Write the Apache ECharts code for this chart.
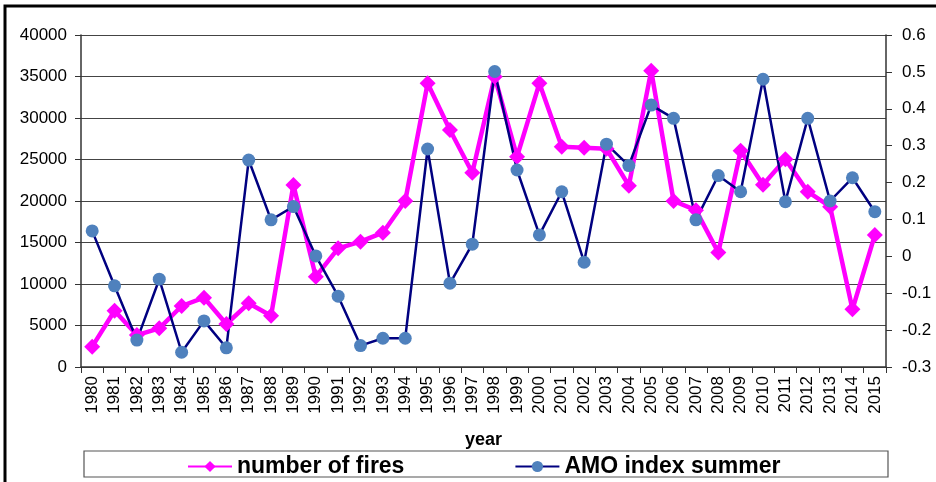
<!DOCTYPE html>
<html>
<head>
<meta charset="utf-8">
<script src="https://cdn.jsdelivr.net/npm/echarts@6/dist/echarts.min.js"></script>
<style>
html, body { margin: 0; padding: 0; background: #fff; }
#main { width: 936px; height: 482px; }
</style>
</head>
<body>
<div id="main"></div>
<script>
var years = ['1980','1981','1982','1983','1984','1985','1986','1987','1988','1989',
  '1990','1991','1992','1993','1994','1995','1996','1997','1998','1999',
  '2000','2001','2002','2003','2004','2005','2006','2007','2008','2009',
  '2010','2011','2012','2013','2014','2015'];
var fires = [2450, 6780, 3850, 4660, 7350, 8350, 5180, 7670, 6180, 21930,
  10880, 14300, 15100, 16180, 20000, 34180, 28550, 23410, 34980, 25340,
  34180, 26550, 26430, 26300, 21850, 35700, 20000, 18900, 13800, 26060,
  21970, 25020, 21120, 19320, 6950, 15900];
var amo = [0.069, -0.080, -0.227, -0.062, -0.260, -0.175, -0.248, 0.261, 0.099, 0.135,
  0.001, -0.108, -0.242, -0.222, -0.222, 0.291, -0.073, 0.033, 0.501, 0.234,
  0.058, 0.175, -0.016, 0.304, 0.246, 0.410, 0.374, 0.099, 0.219, 0.175,
  0.480, 0.148, 0.374, 0.150, 0.213, 0.121];

var chart = echarts.init(document.getElementById('main'));
var font = 'Liberation Sans, Arial, sans-serif';

var option = {
  animation: false,
  backgroundColor: '#fff',
  grid: { left: 81, right: 50, top: 35, bottom: 115 },
  graphic: [
    // outer frame (only top and left edges fall inside the picture)
    { type: 'rect', shape: { x: 5, y: 6, width: 960, height: 520 },
      style: { fill: 'none', stroke: '#000', lineWidth: 3 }, z: 100 },
    // legend box
    { type: 'rect', shape: { x: 84, y: 451, width: 804, height: 26 },
      style: { fill: 'none', stroke: '#555', lineWidth: 1.2 }, z: 100 }
  ],
  legend: {
    left: 182, top: 450,
    itemWidth: 44, itemHeight: 14, itemGap: 110,
    textStyle: { fontFamily: font, fontSize: 23, fontWeight: 'bold', color: '#000' },
    data: ['number of fires', 'AMO index summer']
  },
  xAxis: {
    type: 'category',
    data: years,
    name: 'year',
    nameLocation: 'middle',
    nameGap: 64,
    nameTextStyle: { fontFamily: font, fontSize: 18, fontWeight: 'bold', color: '#000' },
    axisLine: { lineStyle: { color: '#333', width: 1.5 } },
    axisTick: { show: true, length: 6, lineStyle: { color: '#333' } },
    axisLabel: { rotate: 90, fontFamily: font, fontSize: 17, color: '#000', margin: 9 }
  },
  yAxis: [
    {
      type: 'value', min: 0, max: 40000, interval: 5000,
      axisLine: { show: true, lineStyle: { color: '#333', width: 1.5 } },
      axisTick: { show: true, length: 6, lineStyle: { color: '#333' } },
      axisLabel: { fontFamily: font, fontSize: 17, color: '#000', margin: 14,
        formatter: function (v) { return v + ''; } },
      splitLine: { lineStyle: { color: '#444', width: 1.2 } }
    },
    {
      type: 'value', min: -0.3, max: 0.6, interval: 0.1,
      axisLine: { show: true, lineStyle: { color: '#333', width: 1.5 } },
      axisTick: { show: true, length: 6, lineStyle: { color: '#333' } },
      axisLabel: {
        fontFamily: font, fontSize: 17, color: '#000', margin: 16,
        formatter: function (v) { return Math.round(v * 10) / 10 + ''; }
      },
      splitLine: { show: false }
    }
  ],
  series: [
    {
      name: 'number of fires',
      type: 'line',
      yAxisIndex: 0,
      data: fires,
      symbol: 'diamond',
      symbolSize: 16,
      lineStyle: { color: '#ff00ff', width: 4.5 },
      itemStyle: { color: '#ff00ff' }
    },
    {
      name: 'AMO index summer',
      type: 'line',
      yAxisIndex: 1,
      data: amo,
      symbol: 'circle',
      symbolSize: 13,
      lineStyle: { color: '#000080', width: 2.5 },
      itemStyle: { color: '#4f81bd' }
    }
  ]
};
chart.setOption(option);
</script>
</body>
</html>
